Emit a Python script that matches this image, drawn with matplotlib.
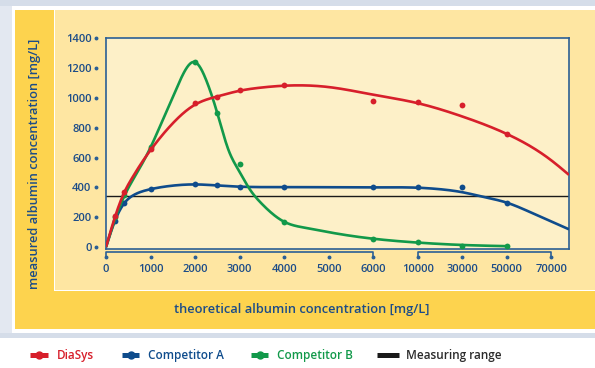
import numpy as np
import matplotlib.pyplot as plt
import matplotlib.transforms as mtransforms
from matplotlib.patches import Rectangle
from matplotlib.lines import Line2D

plt.rcParams['font.family'] = ['Open Sans', 'DejaVu Sans']

# x axis is categorical: tick values and their labels
tick_values = [0, 1000, 2000, 3000, 4000, 5000, 6000, 10000, 30000, 50000, 70000]
tick_labels = ['0', '1000', '2000', '3000', '4000', '5000', '6000',
               '10000', '30000', '50000', '70000']
y_ticks = [0, 200, 400, 600, 800, 1000, 1200, 1400]

# measured points
conc = [200, 400, 1000, 2000, 2500, 3000, 4000, 6000, 10000, 30000, 50000]
diasys = [208, 370, 657, 963, 1003, 1050, 1089, 981, 972, 956, 759]
comp_a = [177, 298, 388, 423, 415, 401, 401, 401, 401, 404, 298]
comp_b = [200, 351, 670, 1241, 898, 556, 170, 56, 31, 7, 5]
measuring_range = 343

# fitted curves (axis position, value)
diasys_fit_x = [0, 0.2, 0.4, 0.6, 0.8, 1.0, 1.5, 2.0, 2.5, 3.0, 3.5, 4.0, 5.0, 6.0, 7.0, 8.0, 9.0, 10.0, 10.4]
diasys_fit_y = [0, 200, 360, 470, 565, 650, 830, 955, 1010, 1048, 1070, 1082, 1073, 1022, 965, 876, 759, 582, 484]
comp_a_fit_x = [0, 0.2, 0.4, 0.6, 0.8, 1.0, 1.5, 2.0, 2.5, 3.0, 4.0, 5.0, 6.0, 7.0, 7.5, 8.0, 8.5, 9.0, 9.5, 10.0, 10.4]
comp_a_fit_y = [0, 175, 290, 345, 372, 388, 412, 420, 413, 405, 402, 401, 400, 398, 388, 368, 335, 298, 238, 172, 119]
comp_b_fit_x = [0, 0.2, 0.4, 0.7, 1.0, 1.25, 1.5, 1.75, 2.0, 2.25, 2.5, 2.75, 3.0, 3.2, 3.5, 4.0, 4.5, 5.0, 6.0, 7.0, 8.0, 9.0]
comp_b_fit_y = [0, 185, 335, 500, 668, 835, 1005, 1170, 1240, 1120, 898, 652, 505, 401, 290, 170, 128, 100, 56, 30, 14, 6]

RED = '#d71f2b'
BLUE = '#0f4c8c'
GREEN = '#12994a'
AXBLUE = '#2b5f95'
TXT = '#1c4c88'


def spline(x, y, xs):
    # natural cubic spline through the read-off fit points
    x = np.asarray(x, float)
    y = np.asarray(y, float)
    n = len(x)
    h = np.diff(x)
    A = np.zeros((n, n))
    r = np.zeros(n)
    A[0, 0] = A[-1, -1] = 1
    for i in range(1, n - 1):
        A[i, i - 1] = h[i - 1]
        A[i, i] = 2 * (h[i - 1] + h[i])
        A[i, i + 1] = h[i]
        r[i] = 3 * ((y[i + 1] - y[i]) / h[i] - (y[i] - y[i - 1]) / h[i - 1])
    c = np.linalg.solve(A, r)
    b = (y[1:] - y[:-1]) / h - h * (2 * c[:-1] + c[1:]) / 3
    d = (c[1:] - c[:-1]) / (3 * h)
    i = np.clip(np.searchsorted(x, xs) - 1, 0, n - 2)
    dx = xs - x[i]
    return y[i] + b[i] * dx + c[i] * dx**2 + d[i] * dx**3


W, H = 595, 368
fig = plt.figure(figsize=(W / 100, H / 100), dpi=100, facecolor='white')


def box(x0, y0, x1, y1, color):
    fig.add_artist(Rectangle((x0 / W, 1 - y1 / H), (x1 - x0) / W, (y1 - y0) / H,
                             transform=fig.transFigure, facecolor=color,
                             edgecolor='none', zorder=-10))


# frame / panels
box(0, 0, 595, 6, '#d5dde9')
box(0, 6, 12, 333, '#e3e8f1')
box(0, 333, 595, 338, '#d5dde9')
box(15, 10, 595, 329, '#fdd34e')
box(54, 10, 595, 291, '#ffffff')
box(55, 10, 595, 290, '#fee6a2')

ax = fig.add_axes([106 / W, 1 - 249 / H, 463 / W, 211 / H])
ax.set_facecolor('#fdf0c8')
for s in ax.spines.values():
    s.set_color(AXBLUE)
    s.set_linewidth(1.2)

pos = np.interp(conc, tick_values, np.arange(len(tick_values)))

ax.axhline(measuring_range, color='#1a1a1a', lw=1.0, zorder=2)

for fx, fy, py, c, z in [(comp_a_fit_x, comp_a_fit_y, comp_a, BLUE, 3),
                         (comp_b_fit_x, comp_b_fit_y, comp_b, GREEN, 4),
                         (diasys_fit_x, diasys_fit_y, diasys, RED, 5)]:
    xs = np.linspace(fx[0], fx[-1], 500)
    ax.plot(xs, spline(fx, fy, xs), color=c, lw=1.9, zorder=z, solid_capstyle='butt')
    ax.plot(pos, py, 'o', color=c, ms=4.2, mec='none', zorder=z)

ax.set_xlim(0, 10.4)
ax.set_ylim(-13, 1402)
ax.set_xticks(np.arange(len(tick_values)))
ax.set_xticklabels(tick_labels)
ax.set_yticks(y_ticks)
ax.tick_params(axis='x', length=0, pad=10.5, labelsize=8, labelcolor=TXT)
ax.tick_params(axis='y', length=0, pad=10.5, labelsize=8, labelcolor=TXT)
for lab in ax.get_xticklabels() + ax.get_yticklabels():
    lab.set_fontweight('semibold')

# tick dots and the broken-axis brackets
xt = mtransforms.blended_transform_factory(ax.transData, ax.transAxes)
yt = mtransforms.blended_transform_factory(ax.transAxes, ax.transData)
ax.plot(np.arange(len(tick_values)), np.full(len(tick_values), -0.040), 'o', ms=1.8,
        color=AXBLUE, transform=xt, clip_on=False)
ax.plot(np.full(len(y_ticks), -0.022), y_ticks, 'o', ms=1.8, color=AXBLUE,
        transform=yt, clip_on=False)
for a, b in [(0, 6), (7, 10)]:
    ax.plot([a, a, b, b], [-0.031, -0.012, -0.012, -0.031], color=AXBLUE, lw=1.2,
            transform=xt, clip_on=False)

fig.text(302 / W, 1 - 309 / H, 'theoretical albumin concentration [mg/L]',
         ha='center', va='center', fontsize=9.3, color=TXT, fontweight='semibold')
fig.text(35 / W, 1 - 164 / H, 'measured albumin concentration [mg/L]',
         ha='center', va='center', rotation=90, fontsize=9.3, color=TXT,
         fontweight='semibold')

# legend
yl = 1 - 355 / H
legend_items = [('DiaSys', RED, 30, 48, 57, True),
                ('Competitor A', BLUE, 122, 139, 148, True),
                ('Competitor B', GREEN, 251, 268, 277, True),
                ('Measuring range', '#1a1a1a', 377, 399, 406, False)]
for name, c, x0, x1, xt_, dot in legend_items:
    fig.add_artist(Line2D([x0 / W, x1 / W], [yl, yl], transform=fig.transFigure,
                          color=c, lw=3.6, solid_capstyle='butt'))
    if dot:
        fig.add_artist(Line2D([(x0 + x1) / 2 / W], [yl], transform=fig.transFigure,
                              marker='o', ms=6, color=c, mec='none'))
    fig.text(xt_ / W, yl, name, ha='left', va='center', fontsize=8.5,
             color='#2b2b2b' if not dot else c, fontweight='semibold')

fig.savefig('out.png', dpi=100)
